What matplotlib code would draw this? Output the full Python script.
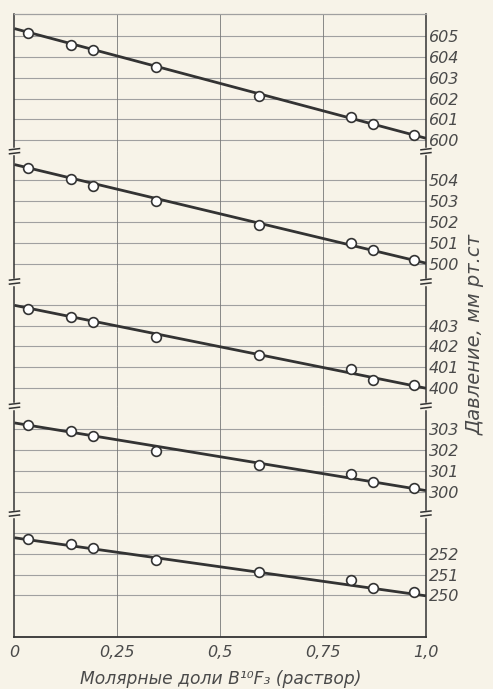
import matplotlib
matplotlib.use("Agg")
import matplotlib.pyplot as plt
from matplotlib.lines import Line2D

# Состав раствора (мольные доли B10F3) - одинаковый для всех серий
x_frac = [0.033, 0.137, 0.192, 0.343, 0.595, 0.819, 0.872, 0.972]

# Давление, мм рт.ст (точки)
p600 = [605.16, 604.58, 604.31, 603.50, 602.14, 601.12, 600.79, 600.24]
p500 = [504.59, 504.05, 503.74, 502.99, 501.85, 500.99, 500.64, 500.16]
p400 = [403.81, 403.40, 403.17, 402.44, 401.57, 400.90, 400.41, 400.14]
p300 = [303.19, 302.89, 302.68, 301.95, 301.28, 300.85, 300.44, 300.19]
p250 = [252.71, 252.48, 252.27, 251.68, 251.12, 250.73, 250.35, 250.16]

# Прямые (концы при x=0 и x=1)
fit_x = [0.0, 1.0]
fit600 = [605.35, 600.10]
fit500 = [504.75, 500.03]
fit400 = [403.97, 400.00]
fit300 = [303.29, 300.05]
fit250 = [252.76, 249.98]

# Пределы и сетка для каждого участка
ylims = [(599.48, 606.05), (499.15, 505.39), (399.16, 405.11), (298.95, 304.11), (248.01, 253.92)]
grid_y = [[600, 601, 602, 603, 604, 605],
          [500, 501, 502, 503, 504],
          [400, 401, 402, 403, 404],
          [300, 301, 302, 303],
          [250, 251, 252, 253]]
tick_y = [[600, 601, 602, 603, 604, 605],
          [500, 501, 502, 503, 504],
          [400, 401, 402, 403],
          [300, 301, 302, 303],
          [250, 251, 252]]

x_ticks = [0, 0.25, 0.5, 0.75, 1.0]
x_ticklabels = ["0", "0,25", "0,5", "0,75", "1,0"]

points = [p600, p500, p400, p300, p250]
fits = [fit600, fit500, fit400, fit300, fit250]

bg = "#f7f3e8"
ink = "#333333"
gridc = "#a0a0a0"
txt = "#4a4a4a"

fig = plt.figure(figsize=(4.93, 6.89), dpi=100, facecolor=bg)
ratios = [hi - lo for lo, hi in ylims]
gs = fig.add_gridspec(5, 1, height_ratios=ratios, hspace=0,
                      left=0.0294, right=0.864, top=0.9797, bottom=0.0755)

font = dict(family="DejaVu Sans", style="italic")

axes = []
for i in range(5):
    ax = fig.add_subplot(gs[i])
    ax.set_facecolor(bg)
    ax.set_xlim(0, 1)
    ax.set_ylim(*ylims[i])
    for g in grid_y[i]:
        ax.axhline(g, color=gridc, lw=0.8, zorder=1)
    for v in [0.25, 0.5, 0.75]:
        ax.axvline(v, color="#777777", lw=0.6, zorder=1)
    ax.plot(fit_x, fits[i], color=ink, lw=2.0, zorder=2, solid_capstyle="butt")
    ax.plot(x_frac, points[i], "o", ms=7, mfc="white", mec=ink, mew=1.2,
            zorder=3, clip_on=False)

    ax.yaxis.tick_right()
    ax.set_yticks(tick_y[i])
    ax.set_yticklabels([str(t) for t in tick_y[i]], fontsize=11.5, color=txt, **font)
    ax.tick_params(axis="y", length=0, pad=2)

    for s in ["left", "right"]:
        ax.spines[s].set_color(ink)
        ax.spines[s].set_linewidth(1.1)
    ax.spines["top"].set_visible(i == 0)
    ax.spines["top"].set_color(gridc)
    ax.spines["top"].set_linewidth(0.9)
    ax.spines["bottom"].set_visible(i == 4)
    ax.spines["bottom"].set_color(ink)
    ax.spines["bottom"].set_linewidth(1.3)

    if i < 4:
        ax.set_xticks([])
    else:
        ax.set_xticks(x_ticks)
        ax.set_xticklabels(x_ticklabels, fontsize=11.5, color=txt, **font)
        ax.tick_params(axis="x", length=0, pad=6)
        ax.set_xlabel("Молярные доли B¹⁰F₃ (раствор)", fontsize=12.3,
                      color=txt, labelpad=7, **font)
    axes.append(ax)

# Знаки разрыва оси на левой и правой границах
W, H = fig.get_size_inches() * fig.dpi
for i in range(4):
    pos = axes[i].get_position()
    yb = pos.y0
    for xb in [pos.x0, pos.x1]:
        half = 5 / W
        gap = 2.0 / H
        fig.add_artist(Line2D([xb, xb], [yb - gap, yb + gap], transform=fig.transFigure,
                              color=bg, lw=2.5, zorder=5))
        for d in [-gap, gap]:
            fig.add_artist(Line2D([xb - half, xb + half], [yb + d - 0.6 / H, yb + d + 0.6 / H],
                                  transform=fig.transFigure, color=ink, lw=1.1, zorder=6))

fig.text(0.963, 0.515, "Давление, мм рт.ст", rotation=90, ha="center", va="center",
         fontsize=14, color=txt, **font)

fig.savefig("out.png", dpi=100, facecolor=bg)
